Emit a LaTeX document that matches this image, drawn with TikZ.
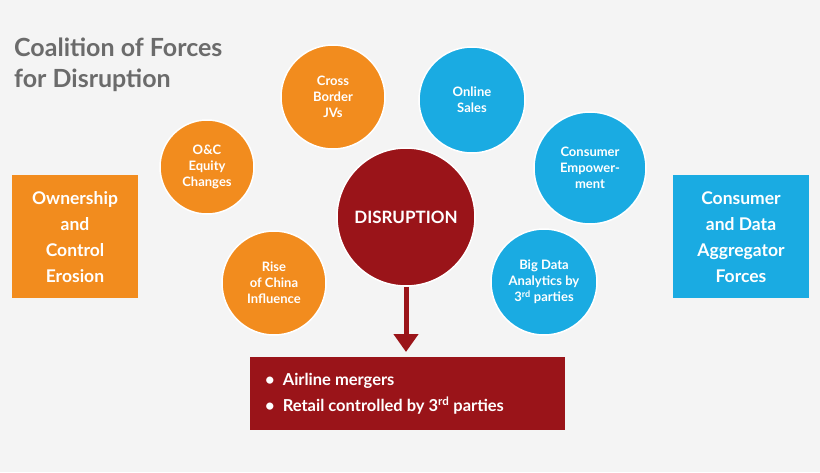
\documentclass[tikz,border=0pt]{standalone}
\usepackage{fontspec}
\setmainfont{Lato}
\usetikzlibrary{arrows.meta}
\definecolor{bg}{HTML}{F4F4F4}
\definecolor{org}{HTML}{F28C1E}
\definecolor{blu}{HTML}{1AABE2}
\definecolor{dred}{HTML}{9A1419}
\definecolor{ttl}{HTML}{6B6B6B}
\begin{document}
\begin{tikzpicture}[x=1pt,y=-1pt,
  circ/.style={circle,draw=white,line width=1.5pt,text=white,font=\bfseries\fontsize{13}{16}\selectfont,align=center,inner sep=0pt},
  ob/.style={circ,fill=org},
  bb/.style={circ,fill=blu},
  side/.style={text=white,font=\bfseries\fontsize{17.5}{26}\selectfont,align=center,inner sep=0pt}]
\fill[bg] (0,0) rectangle (820,472);
\useasboundingbox (0,0) rectangle (820,472);
\node[anchor=north west,text=ttl,font=\bfseries\fontsize{25}{31}\selectfont,align=left,inner sep=0pt] (title) at (14,38) {Coalition of Forces\\for Disruption};
\fill[org] (12,175) rectangle (138,298);
\node[side] (left) at (75,237) {Ownership\\and\\Control\\Erosion};
\fill[blu] (673,175) rectangle (809,298);
\node[side] (right) at (741,237) {Consumer\\and Data\\Aggregator\\Forces};
\node[ob,minimum size=94pt] (oc) at (207,167) {O\&C\\Equity\\Changes};
\node[ob,minimum size=104pt] (cb) at (333,97) {Cross\\Border\\JVs};
\node[ob,minimum size=104pt] (ch) at (274,283) {Rise\\of China\\Influence};
\node[bb,minimum size=106pt] (os) at (472,100) {Online\\Sales};
\node[bb,minimum size=112pt] (ce) at (590,168) {Consumer\\Empower-\\ment};
\node[bb,minimum size=106pt] (bd) at (544,282) {Big Data\\Analytics by\\3\textsuperscript{rd} parties};
\node[circ,fill=dred,minimum size=138pt,font=\bfseries\fontsize{17}{20}\selectfont] (dis) at (406,217) {DISRUPTION};
\fill[dred] (250,357) rectangle (565,430);
\node[anchor=west,text=white,font=\bfseries\fontsize{16.5}{26}\selectfont,align=left,inner sep=0pt] (list) at (265,394) {\textbullet\ \ Airline mergers\\\textbullet\ \ Retail controlled by 3\textsuperscript{rd} parties};
\coordinate (tip) at (406,352);
\draw[dred,line width=5pt,-{Stealth[length=18pt,width=24pt,inset=0pt]}] (dis.south) -- (tip);
\end{tikzpicture}
\end{document}
